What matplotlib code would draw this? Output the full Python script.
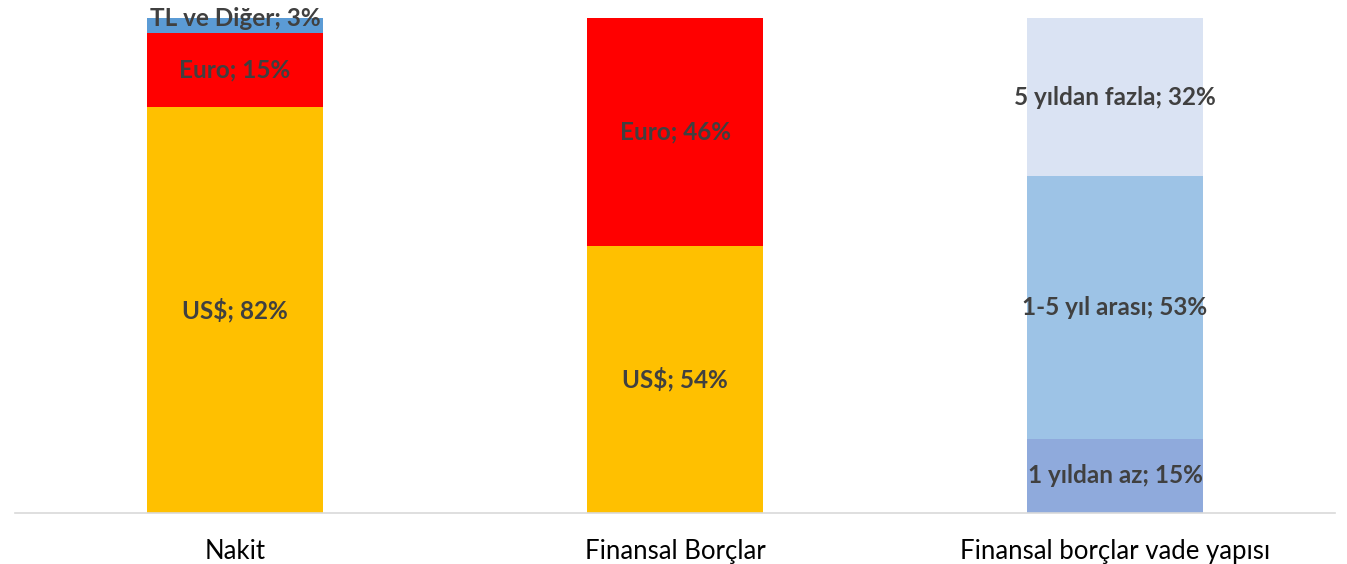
import matplotlib.pyplot as plt

categories = ["Nakit", "Finansal Borçlar", "Finansal borçlar vade yapısı"]

# each bar: list of (label, value) from bottom to top
nakit_labels = ["US$", "Euro", "TL ve Diğer"]
nakit_values = [82, 15, 3]
borc_labels = ["US$", "Euro"]
borc_values = [54, 46]
vade_labels = ["1 yıldan az", "1-5 yıl arası", "5 yıldan fazla"]
vade_values = [15, 53, 32]

nakit_colors = ["#FFC000", "#FF0000", "#5B9BD5"]
borc_colors = ["#FFC000", "#FF0000"]
vade_colors = ["#8FAADC", "#9DC3E6", "#DAE3F3"]

plt.rcParams['font.family'] = ['Lato', 'DejaVu Sans']

fig = plt.figure(figsize=(13.47, 5.64), dpi=100)
ax = fig.add_axes([15/1347, 51/564, 1320/1347, 495/564])

stacks = [(nakit_labels, nakit_values, nakit_colors),
          (borc_labels, borc_values, borc_colors),
          (vade_labels, vade_values, vade_colors)]

for i, (labs, vals, cols) in enumerate(stacks):
    bottom = 0
    for lab, v, c in zip(labs, vals, cols):
        ax.bar(i, v, bottom=bottom, width=0.4, color=c, edgecolor='none')
        y = bottom + v / 2
        if v < 5:
            y = bottom + v  # small segment: label sits on top edge
        ax.text(i, y, f"{lab}; {v}%", ha='center', va='center',
                fontsize=17.5, fontweight='bold', color='#404040')
        bottom += v

ax.set_xlim(-0.5, 2.5)
ax.set_ylim(0, 100)
ax.set_xticks(range(len(categories)))
ax.set_xticklabels(categories, fontsize=18.5, color='#000000')
ax.tick_params(axis='x', length=0, pad=19)
ax.set_yticks([])
for s in ['top', 'right', 'left']:
    ax.spines[s].set_visible(False)
ax.spines['bottom'].set_color('#D9D9D9')
ax.spines['bottom'].set_linewidth(1.2)

fig.savefig("out.png", dpi=100)
